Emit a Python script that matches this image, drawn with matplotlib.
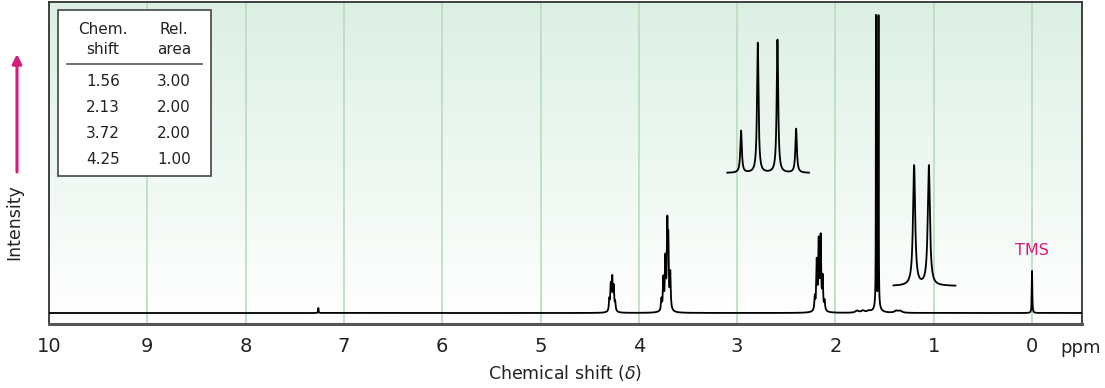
import numpy as np
import matplotlib.pyplot as plt
from matplotlib.patches import Rectangle

# ---------------- DATA ----------------
# main spectrum lines: position (ppm), height (px above baseline), half width (ppm)
line_ppm = [7.26,
            4.300, 4.285, 4.270, 4.255, 4.240, 4.270,
            3.770, 3.750, 3.730, 3.710, 3.700, 3.680, 3.720,
            2.210, 2.190, 2.170, 2.150, 2.130, 2.110, 2.160,
            1.587, 1.562, 1.575,
            1.78, 1.72, 1.66, 1.38, 1.34,
            0.0]
line_height = [5,
               11, 24, 29, 22, 8, 4,
               11, 30, 46, 76, 60, 35, 6,
               13, 47, 64, 68, 31, 9, 6,
               290, 290, 7,
               2, 2, 1.5, 2, 2,
               42]
line_width = [0.003,
              0.005, 0.005, 0.005, 0.005, 0.005, 0.02,
              0.005, 0.005, 0.005, 0.005, 0.005, 0.005, 0.025,
              0.005, 0.005, 0.005, 0.005, 0.005, 0.005, 0.025,
              0.002, 0.002, 0.03,
              0.02, 0.02, 0.02, 0.02, 0.02,
              0.003]

# expanded insets
quartet_ppm = [2.96, 2.79, 2.59, 2.40]
quartet_height = [42, 130, 133, 44]
quartet_range = (3.10, 2.27)
quartet_base = 140

doublet_ppm = [1.20, 1.05]
doublet_height = [120, 120]
doublet_range = (1.41, 0.78)
doublet_base = 27

table_shift = ["1.56", "2.13", "3.72", "4.25"]
table_area = ["3.00", "2.00", "2.00", "1.00"]

ticks = [10, 9, 8, 7, 6, 5, 4, 3, 2, 1, 0]


def lorentz(x, pos, h, w):
    y = np.zeros_like(x)
    for p, hh, ww in zip(pos, h, w):
        y += hh * ww**2 / ((x - p)**2 + ww**2)
    return y


# ---------------- FIGURE ----------------
W, H = 1105, 388
fig = plt.figure(figsize=(W / 100, H / 100), dpi=100)
ax = fig.add_axes([49 / W, 1 - 324 / H, (1082 - 49) / W, (324 - 2) / H])
ax.set_xlim(10, -0.508)
ax.set_ylim(-11, 311)

# gradient background
grad = np.linspace(0, 1, 256).reshape(-1, 1)
top = np.array([0.865, 0.94, 0.895])
bot = np.array([1.0, 1.0, 1.0])
img = top * (1 - grad[..., None]) + bot * grad[..., None]
img = img[::-1]
ax.imshow(img, extent=[10, -0.508, -11, 311], aspect="auto", zorder=0,
          origin="lower")

for t in ticks:
    ax.axvline(t, color="#b8dcbc", lw=1.2, zorder=1)

# main spectrum
x = np.arange(-0.5, 10.0, 0.0005)
y = lorentz(x, line_ppm, line_height, line_width)
ax.plot(x, y, color="black", lw=1.3, zorder=3)

# quartet inset
xq = np.linspace(quartet_range[0], quartet_range[1], 2000)
yq = quartet_base + lorentz(xq, quartet_ppm, quartet_height, [0.009] * 4)
ax.plot(xq, yq, color="black", lw=1.3, zorder=3)

# doublet inset
xd = np.linspace(doublet_range[0], doublet_range[1], 2000)
yd = doublet_base + lorentz(xd, doublet_ppm, doublet_height, [0.013] * 2)
ax.plot(xd, yd, color="black", lw=1.3, zorder=3)

# frame
for s in ["top", "left", "right"]:
    ax.spines[s].set_color("#333333")
    ax.spines[s].set_linewidth(1.3)
ax.spines["bottom"].set_color("#555555")
ax.spines["bottom"].set_linewidth(2.2)
ax.set_yticks([])
ax.set_xticks(ticks)
ax.set_xticklabels([str(t) for t in ticks], fontsize=14, color="#222222")
ax.tick_params(axis="x", length=0, pad=9)

ax.text(0.0, 55, "TMS", color="#d81b7a", fontsize=11.5, ha="center", va="bottom")

fig.text(1060 / W, 1 - 348 / H, "ppm", fontsize=13, color="#222222",
         ha="left", va="center")
fig.text(565 / W, 1 - 373 / H, "Chemical shift ($\\delta$)", fontsize=12.5,
         color="#222222", ha="center", va="center")
fig.text(14 / W, 1 - 222 / H, "Intensity", fontsize=12.5, color="#222222",
         rotation=90, ha="center", va="center")
ax.annotate("", xy=(17 / W, 1 - 54 / H), xytext=(17 / W, 1 - 172 / H),
            xycoords="figure fraction", textcoords="figure fraction",
            annotation_clip=False,
            arrowprops=dict(arrowstyle="-|>", color="#d81b7a", lw=2.2,
                            mutation_scale=14, shrinkA=0, shrinkB=0))

# table
fig.patches.append(Rectangle((58 / W, 1 - 176 / H), (211 - 58) / W,
                             (176 - 10) / H, transform=fig.transFigure,
                             facecolor="white", edgecolor="#444444", lw=1.2,
                             zorder=5))
fig.add_artist(plt.Line2D([67 / W, 202 / W], [1 - 64 / H, 1 - 64 / H],
                          transform=fig.transFigure, color="#555555", lw=1.2,
                          zorder=6))
tk = dict(fontsize=11, color="#222222", ha="center", va="center", zorder=7)
fig.text(103 / W, 1 - 30 / H, "Chem.", **tk)
fig.text(103 / W, 1 - 50 / H, "shift", **tk)
fig.text(174 / W, 1 - 30 / H, "Rel.", **tk)
fig.text(174 / W, 1 - 50 / H, "area", **tk)
for i, (s, a) in enumerate(zip(table_shift, table_area)):
    yy = 1 - (81 + i * 26.3) / H
    fig.text(103 / W, yy, s, **tk)
    fig.text(174 / W, yy, a, **tk)

fig.savefig("out.png", dpi=100)
